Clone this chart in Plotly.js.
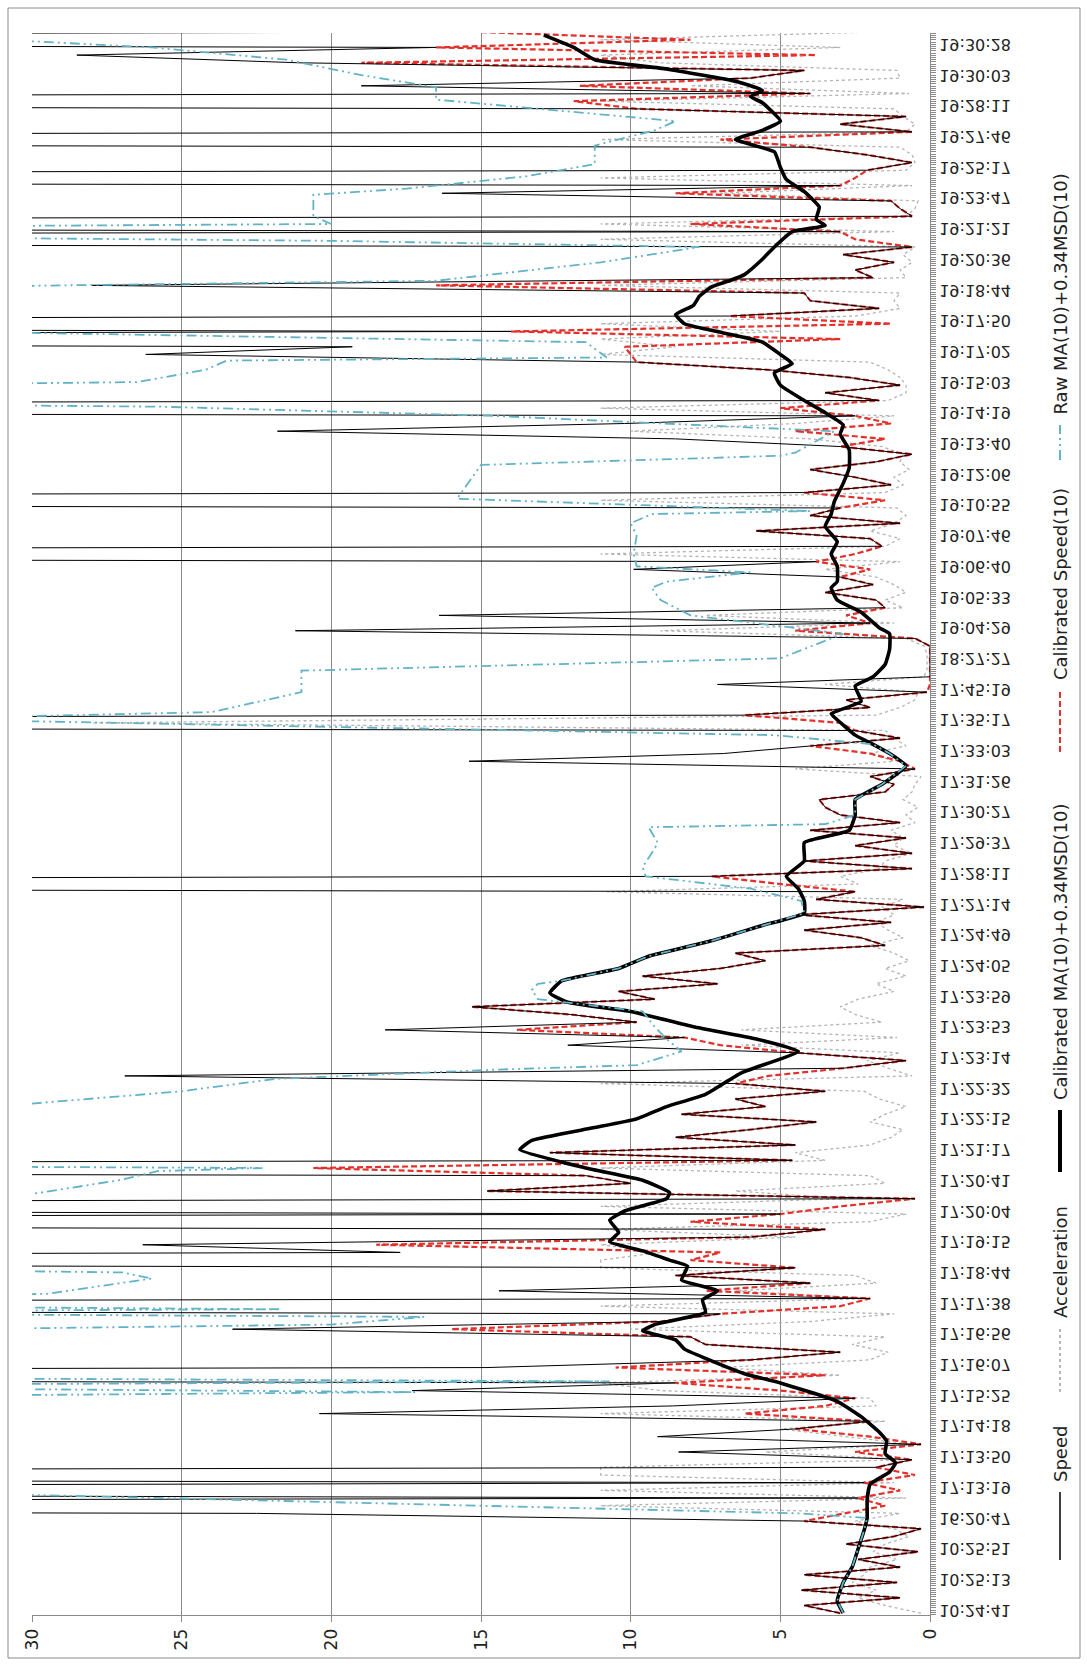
<!DOCTYPE html>
<html>
<head>
<meta charset="utf-8">
<script src="https://cdn.plot.ly/plotly-3.0.1.min.js"></script>
<style>
html,body{margin:0;padding:0;background:#fff;}
#chart{width:1087px;height:1665px;}
</style>
</head>
<body>
<div id="chart"></div>
<script>
// ---------- category labels (every 14th time stamp is labelled) ----------
const timeLabels = ["10:24:41","10:25:13","10:25:51","16:20:47","17:13:19","17:13:50","17:14:18","17:15:25",
"17:16:07","17:16:56","17:17:38","17:18:44","17:19:15","17:20:04","17:20:41","17:21:17","17:22:15","17:22:32",
"17:23:14","17:23:53","17:23:59","17:24:05","17:24:49","17:27:14","17:28:11","17:29:37","17:30:27","17:31:26",
"17:33:03","17:35:17","17:45:19","18:27:27","19:04:29","19:05:33","19:06:40","19:07:46","19:10:55","19:12:06",
"19:13:40","19:14:19","19:15:03","19:17:02","19:17:50","19:18:44","19:20:36","19:21:21","19:23:47","19:25:17",
"19:27:46","19:28:11","19:30:03","19:30:28"];

// ---------- sampled series (one sample every quarter of a label interval) ----------
const speed = [
3.0,4.2,1.0,4.3, 1.1,4.2,1.0,2.4, 0.4,2.8,1.2,0.3, 4.2,22.5,150,2.4, 120,2.2,140,1.8,
0.6,8.4,0.3,9.1, 4.5,2.0,20.4,8.6, 2.5,17.3,8.5,150, 14.8,6.0,3.0,7.5, 8.0,23.3,9.0,7.0,
130,2.0,14.4,4.0, 8.5,4.5,120,17.7, 26.3,6.0,3.5,140, 5.0,120,0.5,14.8, 10.0,11.5,150,4.6,
12.7,4.5,8.5,6.0, 3.8,8.3,5.5,6.5, 3.5,6.5,26.9,2.9, 0.8,4.4,12.1,8.2, 18.2,9.8,12.0,15.3,
9.2,10.4,7.1,9.6, 7.0,5.5,6.5,1.5, 2.3,4.2,1.3,4.4, 0.2,3.8,2.5,150, 7.3,0.6,4.2,0.6,
2.5,0.8,4.0,1.0, 3.0,3.5,3.7,1.5, 1.2,2.0,0.5,15.4, 6.9,4.0,1.0,2.5, 150,6.2,2.0,2.8,
0.1,7.1,0.0,0.0, 0.0,0.0,0.0,0.5, 21.2,2.0,16.4,1.5, 1.8,3.5,1.9,3.0, 9.9,3.8,150,1.6,
2.0,5.8,1.0,4.0, 3.0,150,4.2,1.3, 2.5,4.0,1.8,0.6, 3.0,8.5,21.8,10.2, 2.5,150,1.7,3.5,
1.0,2.7,5.4,9.8, 26.2,19.3,120,14.0, 130,6.7,1.7,4.0, 4.2,28.0,1.9,2.5, 1.2,2.9,0.6,150,
3.0,140,0.6,1.0, 1.3,16.3,3.0,150, 2.1,0.6,2.1,4.0, 150,0.6,3.0,0.8, 9.8,150,4.0,19.0,
6.0,4.2,21.1,28.5, 16.5,130,15.0];

const acceleration = [
0.3,1.5,2.4,1.8, 2.6,2.2,2.0,1.1, 1.9,1.5,0.7,1.2, 2.5,1.0,11.0,0.8, 11.0,1.2,11.0,11.0,
0.7,5.5,0.6,2.8, 5.0,1.5,11.0,1.8, 2.0,9.0,11.0,3.0, 7.0,2.0,1.4,2.6, 1.5,10.0,4.0,1.2,
11.0,2.0,6.5,1.8, 2.5,11.0,11.0,9.0, 11.0,4.5,11.0,2.0, 0.8,11.0,2.8,6.5, 1.5,2.0,11.0,3.5,
4.5,2.0,1.3,0.9, 2.0,1.5,0.8,1.7, 2.2,11.0,0.6,1.4, 2.1,1.0,6.3,1.1, 6.3,1.6,2.5,3.0,
2.4,1.2,1.8,0.8, 1.5,0.7,1.2,2.0, 0.9,1.4,1.8,1.2, 1.6,0.9,10.8,2.4, 3.0,1.7,1.5,0.6,
1.2,0.9,1.3,0.5, 0.8,0.4,0.9,0.6, 0.5,0.3,4.5,1.2, 2.0,0.8,1.2,1.5, 28.0,1.8,1.0,0.5,
0.4,3.5,0.2,0.1, 0.1,0.1,0.2,0.8, 9.0,1.2,7.5,0.9, 1.5,0.8,1.2,1.8, 3.5,1.0,11.0,1.5,
1.0,2.0,1.2,0.8, 1.1,11.0,1.5,0.9, 1.2,0.7,1.0,0.9, 1.6,4.0,10.0,4.5, 1.2,11.0,1.4,0.8,
0.8,1.0,1.4,2.0, 11.0,8.5,11.0,5.0, 11.0,2.5,1.0,1.2, 1.0,11.0,0.8,1.0, 0.6,0.9,0.5,11.0,
1.2,11.0,0.8,0.5, 0.4,7.0,0.6,11.0, 0.8,0.5,0.6,1.0, 11.0,0.8,0.5,0.9, 1.2,11.0,0.7,8.0,
1.0,1.1,9.0,11.0, 3.0,11.0,2.0];

const calibratedSpeed = [
3.0,4.2,1.0,4.3, 1.1,4.2,1.0,2.4, 0.4,2.8,1.2,0.3, 4.2,2.8,1.5,2.4, 1.0,2.2,0.5,1.8,
0.6,2.5,0.3,2.0, 4.5,2.0,6.2,3.5, 2.5,5.0,8.5,3.5, 10.5,6.0,3.0,7.5, 8.0,16.0,9.0,7.0,
3.0,2.0,7.5,4.0, 8.5,4.5,8.0,7.0, 18.5,6.0,3.5,8.0, 5.0,3.0,0.5,14.8, 10.0,11.5,20.6,4.6,
12.7,4.5,8.5,6.0, 3.8,8.3,5.5,6.5, 3.5,6.5,5.4,2.9, 0.8,4.4,7.0,8.2, 13.8,9.8,12.0,15.3,
9.2,10.4,7.1,9.6, 7.0,5.5,6.5,1.5, 2.3,4.2,1.3,4.4, 0.2,3.8,2.5,5.0, 7.3,0.6,4.2,0.6,
2.5,0.8,4.0,1.0, 3.0,3.5,3.7,1.5, 1.2,2.0,0.5,1.0, 2.0,4.0,1.0,2.5, 3.0,6.2,2.0,2.8,
0.1,0.0,0.0,0.0, 0.0,0.0,0.0,0.5, 4.5,2.0,2.8,1.5, 1.8,3.5,1.9,3.0, 2.0,3.8,2.5,1.6,
2.0,5.8,1.0,4.0, 3.0,1.5,4.2,1.3, 2.5,4.0,1.8,0.6, 3.0,1.5,4.5,1.3, 2.5,5.0,1.7,3.5,
1.0,2.7,5.4,9.8, 10.0,10.2,3.0,14.0, 1.3,6.7,1.7,4.0, 4.2,16.5,1.9,2.5, 1.2,2.9,0.6,2.5,
3.0,8.0,0.6,1.0, 1.3,8.5,3.0,2.5, 2.1,0.6,2.1,4.0, 7.0,0.6,3.0,0.8, 9.8,11.9,4.0,11.7,
6.0,4.2,19.0,3.8, 16.5,8.0,15.0];

// ---------- Calibrated MA(10)+0.34MSD(10): position (label index) and value ----------
const calMaPos = [-0.1,0.3,0.9,1.4,2.0,2.6,3.0,3.6,4.1,4.5,4.8,5.1,5.5,5.8,6.3,6.8,7.4,7.7,8.2,8.5,8.8,9.1,9.3,9.7,
10.1,10.4,10.75,11.2,11.4,11.7,12.0,12.3,12.7,13.0,13.4,13.6,14.0,14.4,15.0,15.3,15.7,16.0,16.4,16.8,17.5,18.2,18.6,
19.0,19.5,19.8,20.1,20.5,20.9,21.3,21.8,22.3,22.7,23.1,23.5,23.9,24.4,25.0,25.4,25.9,26.4,26.9,27.5,27.9,28.2,28.5,
29.0,29.2,29.6,30.1,30.4,30.8,31.3,31.8,32.0,32.5,32.9,33.3,33.5,34.0,34.4,34.8,35.3,35.7,36.1,36.7,37.2,37.8,38.3,
38.6,39.0,39.4,39.9,40.3,40.6,40.9,41.3,41.6,41.9,42.2,42.5,42.8,43.1,43.3,43.5,44.0,44.4,44.9,45.1,45.3,45.7,46.2,
46.6,47.0,47.5,47.9,48.2,48.5,49.1,49.3,49.5,49.8,50.2,50.5,50.9,51.3];
const calMaVal = [2.9,3.1,2.9,2.6,2.4,2.2,2.1,2.1,2.0,1.35,1.15,1.5,1.45,1.7,2.3,3.1,5.0,6.2,7.5,8.2,8.5,9.6,9.2,7.5,
7.6,7.1,8.3,8.1,8.7,9.6,10.7,10.4,10.7,10.2,8.8,8.7,9.6,11.5,13.7,13.3,11.3,9.8,8.8,7.5,6.3,4.4,5.8,
7.9,10.0,12.1,12.7,12.3,10.4,9.4,7.3,5.6,4.2,4.2,4.4,4.8,4.2,4.2,2.7,2.5,2.5,1.6,0.8,1.35,1.9,2.5,
3.1,3.3,2.3,2.5,1.9,1.5,1.35,1.35,1.7,2.3,3.1,3.3,3.1,3.1,3.3,3.1,3.5,3.3,3.2,2.9,2.7,2.7,3.0,
2.9,3.5,4.2,5.0,5.2,4.6,5.0,5.6,6.9,8.2,8.5,7.9,7.7,7.3,6.7,6.2,5.6,5.2,4.6,3.5,3.8,3.7,4.2,
4.8,5.0,5.2,6.5,5.6,5.0,5.6,6.0,5.6,6.5,8.8,11.2,11.9,12.9];

// ---------- Raw MA(10)+0.34MSD(10): position (label index) and value ----------
const rawMaPos = [-0.1,0.3,0.9,1.4,2.0,2.6,3.0,3.15,3.75,4.0,6.9,7.1,7.3,7.45,7.6,9.0,9.3,9.55,9.7,9.8,9.95,10.1,10.3,
10.8,11.0,11.2,13.2,13.4,14.0,14.3,14.4,14.5,16.4,16.5,16.9,17.3,17.6,17.75,18.2,18.6,19.0,19.5,19.9,20.2,20.4,20.5,
20.9,21.3,21.8,22.3,22.7,23.1,23.5,23.9,24.2,24.8,25.0,25.5,25.6,25.9,26.4,26.9,27.5,27.9,28.2,28.5,28.95,29.05,29.12,
29.25,29.9,30.6,31.0,31.8,32.4,32.9,33.3,33.5,33.8,34.0,34.4,35.0,35.4,35.7,35.8,36.2,37.3,37.6,37.7,38.4,38.9,39.2,
39.35,39.8,40.0,40.4,40.7,40.8,41.3,41.6,41.7,42.9,43.15,43.3,43.9,44.4,44.6,44.8,45.0,45.15,45.4,46.1,46.3,46.7,47.1,
47.7,48.2,48.5,48.9,49.2,49.6,50.0,50.5,50.9,51.1,51.4];
const rawMaVal = [2.9,3.1,2.9,2.6,2.4,2.2,2.1,4.4,30,45,45,17.2,45,10.7,45,45,20.0,16.9,45,21.7,45,45,29.5,
26.0,27.0,45,45,31,27.1,25.8,22.3,45,45,30,25.0,21.9,14.6,9.8,8.3,8.8,9.2,9.6,13.1,13.3,13.1,12.3,
10.4,9.4,7.3,5.6,4.2,4.3,6.0,9.5,9.6,9.2,9.1,9.4,3.5,2.5,2.5,1.6,0.8,1.35,1.9,5.2,30,45,30,
24.0,21.0,21.0,5.0,2.9,8.0,9.0,9.3,8.8,6.0,9.8,9.9,9.8,10.0,9.3,4.0,15.8,15.0,5.0,4.5,3.2,14.6,25.8,
45,45,26.5,24.2,23.5,10.8,11.5,30,45,45,29.0,16.5,11.0,7.7,20.0,45,45,20.0,20.6,20.6,17.5,13.5,11.2,
11.2,9.2,8.5,13.0,16.5,16.5,19.0,21.5,26.0,30,45];

const seriesNames = ["Speed","Acceleration","Calibrated MA(10)+0.34MSD(10)","Calibrated Speed(10)","Raw MA(10)+0.34MSD(10)"];
const valueTicks = [0,5,10,15,20,25,30];

// sample positions along the time axis (label index units)
const samplePos = speed.map((_, i) => -0.1 + 0.25 * i);

const FONT = "DejaVu Sans, Verdana, sans-serif";
const GRID = "#8a8a8a";
const colors = {speed:"#000000", accel:"#b4b4b4", ma:"#000000", cal:"#e3302b", raw:"#62b3c6"};
const dashes = {accel:"dot", cal:"6px,3px", raw:"10px,4px,2px,4px,2px,4px"};

// drawing order: acceleration, calibrated speed, speed (thin black on top of the red dashes), MA, raw MA
const traces = [
  {x: acceleration, y: samplePos, mode:"lines", name: seriesNames[1], line:{color:colors.accel, width:1.3, dash:dashes.accel}},
  {x: calibratedSpeed, y: samplePos, mode:"lines", name: seriesNames[3], line:{color:colors.cal, width:2.2, dash:dashes.cal}},
  {x: speed, y: samplePos, mode:"lines", name: seriesNames[0], line:{color:colors.speed, width:1}},
  {x: calMaVal, y: calMaPos, mode:"lines", name: seriesNames[2], line:{color:colors.ma, width:3.6, shape:"spline", smoothing:0.4}},
  {x: rawMaVal, y: rawMaPos, mode:"lines", name: seriesNames[4], line:{color:colors.raw, width:1.8, dash:dashes.raw}}
];

// geometry helpers for paper coordinates (plot area 32..930 x, 33..1615 y)
const PL = 32, PR = 930, PT = 33, PB = 1615;
const px2x = p => (p - PL) / (PR - PL);
const py2y = p => (PB - p) / (PB - PT);

const legendX = px2x(1060);
const legendItems = [
  {name: seriesNames[0], s0:1560, s1:1492, t:1484, line:{color:colors.speed, width:1.5}},
  {name: seriesNames[1], s0:1392, s1:1328, t:1320, line:{color:"#a0a0a0", width:1.5, dash:dashes.accel}},
  {name: seriesNames[2], s0:1172, s1:1110, t:1102, line:{color:colors.ma, width:4}},
  {name: seriesNames[3], s0:752,  s1:690,  t:682,  line:{color:colors.cal, width:2, dash:dashes.cal}},
  {name: seriesNames[4], s0:460,  s1:425,  t:417,  line:{color:colors.raw, width:2, dash:dashes.raw}}
];

const shapes = [
  {type:"rect", xref:"paper", yref:"paper", x0:px2x(8), x1:px2x(1080), y0:py2y(1658), y1:py2y(8),
   line:{color:"#8a8a8a", width:1}, fillcolor:"rgba(0,0,0,0)", layer:"below"}
];
const annotations = [];
legendItems.forEach(it => {
  shapes.push({type:"line", xref:"paper", yref:"paper", x0:legendX, x1:legendX, y0:py2y(it.s0), y1:py2y(it.s1), line:it.line});
  annotations.push({xref:"paper", yref:"paper", x:legendX, y:py2y(it.t), text:it.name, showarrow:false,
    textangle:-90, xanchor:"center", yanchor:"bottom", font:{family:FONT, size:18, color:"#222"}});
});

const layout = {
  width:1087, height:1665,
  margin:{l:PL, r:1087-PR, t:PT, b:1665-PB},
  paper_bgcolor:"#ffffff", plot_bgcolor:"#ffffff",
  showlegend:false,
  xaxis:{range:[30,0], tickmode:"array", tickvals:valueTicks, ticktext:valueTicks.map(String), tickangle:-90,
    showgrid:true, gridcolor:GRID, gridwidth:1, zeroline:false, showline:true, linecolor:GRID, linewidth:1,
    ticks:"outside", ticklen:6, tickcolor:GRID, tickfont:{family:FONT, size:17, color:"#222"}},
  yaxis:{range:[-0.16, 51.37], side:"right", tickmode:"array", tickvals:timeLabels.map((_, i) => i), ticktext:timeLabels,
    tickangle:0, showgrid:false, zeroline:false, showline:true, linecolor:GRID, linewidth:1,
    ticks:"outside", ticklen:5, tickcolor:GRID,
    minor:{tickmode:"linear", tick0:0, dtick:1/14, ticks:"outside", ticklen:5, tickcolor:GRID, showgrid:false},
    tickfont:{family:FONT, size:16, color:"#222"}},
  shapes: shapes,
  annotations: annotations
};

Plotly.newPlot("chart", traces, layout, {staticPlot:true, displayModeBar:false}).then(gd => {
  // the time labels of the source image are drawn mirrored top-to-bottom
  gd.querySelectorAll(".ytick text").forEach(t => {
    const tr = t.getAttribute("transform") || "";
    const bb = t.getBBox();
    const cy = bb.y + bb.height / 2;
    t.setAttribute("transform", tr + " translate(0," + cy + ") scale(1,-1) translate(0," + (-cy) + ")");
  });
});
</script>
</body>
</html>
